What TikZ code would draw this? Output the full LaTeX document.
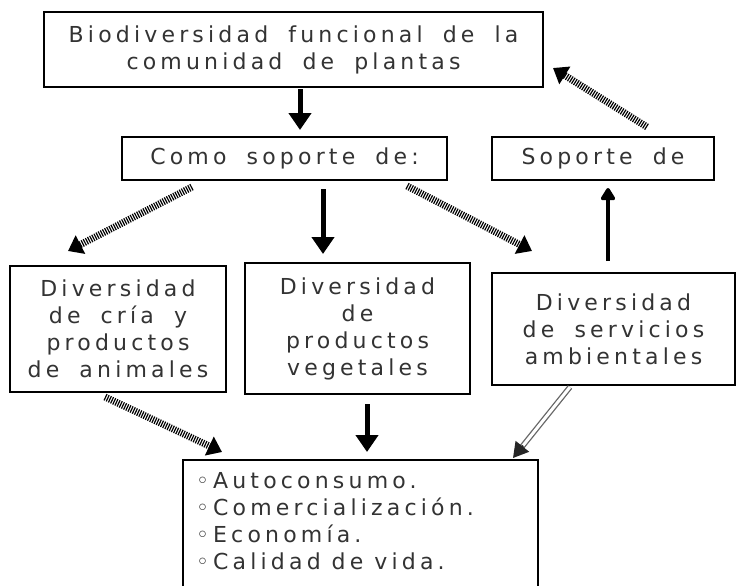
\documentclass[tikz,border=0pt]{standalone}
\usepackage{fontspec}
\setmainfont{DejaVu Sans}[LetterSpace=19,WordSpace=1.8]
\usetikzlibrary{arrows.meta,calc}
\begin{document}
\begin{tikzpicture}[x=1pt,y=-1pt,
  box/.style={draw=black, line width=2pt, fill=white, inner sep=0pt, align=center,
    font=\fontsize{22}{27}\selectfont, text=black!80},
  solidarrow/.style={line width=5pt, -{Triangle[width=22pt,length=17pt]}},
  hatcharrow/.style={line width=7pt, dash pattern=on 1.2pt off 1.2pt,
    -{Triangle[width=20pt,length=14pt]}},
  grayarrow/.style={draw=black!60, line width=1.3pt, double=white, double distance=3pt},
]
\clip (0,0) rectangle (736,586);
\fill[white] (0,0) rectangle (736,586);

\node[box, minimum width=499pt, minimum height=75pt] (top) at (293.5,49.5)
  {Biodiversidad funcional de la\\comunidad de plantas};
\node[box, minimum width=325pt, minimum height=43pt] (como) at (284.5,158.5)
  {Como soporte de:};
\node[box, minimum width=222pt, minimum height=43pt] (sop) at (603,158.5)
  {Soporte de};
\node[box, minimum width=216pt, minimum height=126pt] (left) at (118,329)
  {Diversidad\\de cría y\\productos\\de animales};
\node[box, minimum width=225pt, minimum height=131pt] (mid) at (357.5,328.5)
  {Diversidad\\de\\productos\\vegetales};
\node[box, minimum width=243pt, minimum height=112pt] (right) at (613.5,329)
  {Diversidad\\de servicios\\ambientales};
\node[box, draw=none, fill=none, align=left, anchor=north west,
  inner xsep=12pt, inner ysep=11pt] (bottom) at (183,460)
  {◦Autoconsumo.\\◦Comercialización.\\◦Economía.\\◦Calidad\hspace{11pt}de\hspace{11pt}vida.};
\draw[line width=2pt] (bottom.north west) rectangle ++(355pt,-140pt);

% connectors
\draw[solidarrow] ([xshift=6.5pt,yshift=-1pt]top.south) -- ([xshift=15.5pt,yshift=6pt]como.north);
\draw[hatcharrow] ([xshift=44pt,yshift=9pt]sop.north) -- ([xshift=9pt,yshift=-18.5pt]top.east);
\draw[hatcharrow] ([xshift=-92.5pt,yshift=-6pt]como.south) -- ([xshift=-50pt,yshift=14pt]left.north);
\draw[solidarrow] ([xshift=38.5pt,yshift=-8pt]como.south) -- ([xshift=-34.5pt,yshift=8pt]mid.north);
\draw[hatcharrow] ([xshift=122.5pt,yshift=-5pt]como.south) -- ([xshift=-81.5pt,yshift=21pt]right.north);
\draw[line width=4pt, -{Triangle[width=16pt,length=14pt,round]}] ([xshift=-5.5pt,yshift=11pt]right.north) -- ([xshift=5pt,yshift=-7pt]sop.south);
\draw[hatcharrow] ([xshift=-13pt,yshift=-4pt]left.south) -- ([xshift=39pt,yshift=8pt]bottom.north west);
\draw[solidarrow] ([xshift=9.5pt,yshift=-9pt]mid.south) -- ([xshift=184pt,yshift=8pt]bottom.north west);
\coordinate (gA) at ([xshift=-43.5pt,yshift=-1pt]right.south);
\coordinate (gB) at ([xshift=330pt,yshift=2pt]bottom.north west);
\draw[grayarrow, shorten >=12pt] (gA) -- (gB);
\draw[black!85, line width=2pt, -{Triangle[width=17pt,length=15pt]}] ($(gB)!16pt!(gA)$) -- (gB);
\end{tikzpicture}
\end{document}
